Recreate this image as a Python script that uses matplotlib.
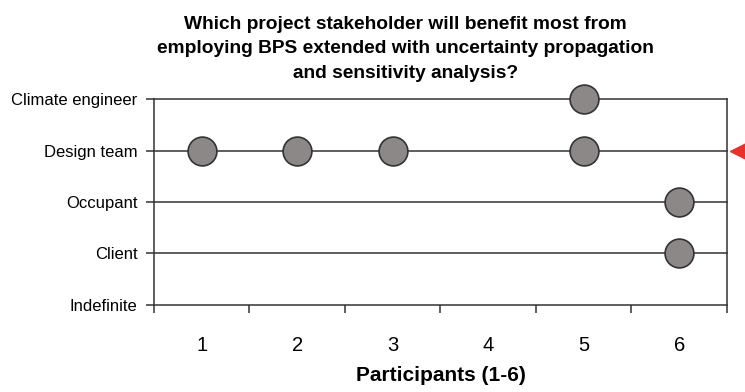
import numpy as np
import matplotlib.pyplot as plt

plt.rcParams['font.family'] = ['Liberation Sans', 'DejaVu Sans']

# stakeholder categories, bottom to top
categories = ['Indefinite', 'Client', 'Occupant', 'Design team', 'Climate engineer']
participants = [1, 2, 3, 4, 5, 6]

# answers: participant number -> chosen stakeholder
answer_participant = [1, 2, 3, 5, 5, 6, 6]
answer_stakeholder = ['Design team', 'Design team', 'Design team',
                      'Climate engineer', 'Design team', 'Occupant', 'Client']

highlight = 'Design team'

fig = plt.figure(figsize=(7.45, 3.92), dpi=100)
ax = fig.add_axes([0.2067, 0.222, 0.7691, 0.5254])

ypos = [categories.index(s) for s in answer_stakeholder]

for i in range(1, len(categories)):
    ax.axhline(i, color='#333333', lw=1.1, zorder=1, clip_on=False)

ax.scatter(answer_participant, ypos, s=430, color='#8c8888',
           edgecolor='#333333', linewidth=1.2, zorder=3, clip_on=False)

# red arrow marker at the right edge
ax.plot([6.64], [categories.index(highlight)], marker='<', markersize=14,
        color='#e8312a', clip_on=False, zorder=4)

ax.set_xlim(0.5, 6.5)
ax.set_ylim(0, len(categories) - 1)

ax.set_xticks(participants)
ax.set_xticklabels([str(p) for p in participants], fontsize=14.5)
ax.set_xticks(np.arange(0.5, 7, 1), minor=True)
ax.tick_params(axis='x', which='major', length=0, pad=22)
ax.tick_params(axis='x', which='minor', length=6, width=1.1, color='#333333')

ax.set_yticks(range(len(categories)))
ax.set_yticklabels(categories, fontsize=12)
ax.tick_params(axis='y', length=6, width=1.1, color='#333333', pad=6)

ax.spines['top'].set_visible(False)
for side in ['left', 'right', 'bottom']:
    ax.spines[side].set_color('#333333')
    ax.spines[side].set_linewidth(1.1)

ax.set_xlabel('Participants (1-6)', fontsize=15, fontweight='bold', labelpad=8)

fig.text(0.544, 0.96,
         'Which project stakeholder will benefit most from\n'
         'employing BPS extended with uncertainty propagation\n'
         'and sensitivity analysis?',
         ha='center', va='top', fontsize=13.8, fontweight='bold', linespacing=1.6)

fig.savefig('out.png', dpi=100)
